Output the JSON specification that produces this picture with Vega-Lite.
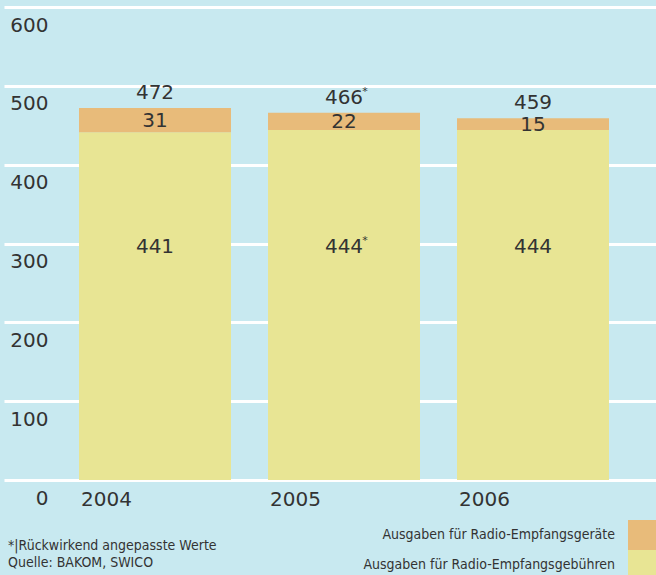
{
  "$schema": "https://vega.github.io/schema/vega-lite/v6.json",
  "width": 652,
  "height": 473,
  "autosize": {"type": "none"},
  "padding": {"left": 4, "top": 7, "right": 0, "bottom": 95},
  "background": "#c8e9f0",
  "config": {
    "view": {"stroke": null, "fill": "#c8e9f0"},
    "font": "DejaVu Sans",
    "text": {"font": "DejaVu Sans", "fontSize": 20, "color": "#333333"}
  },
  "title": {
    "text": ["*|Rückwirkend angepasste Werte", "Quelle: BAKOM, SWICO"],
    "orient": "bottom",
    "anchor": "start",
    "frame": "group",
    "font": "Liberation Sans Narrow, DejaVu Sans Condensed, sans-serif",
    "fontSize": 14,
    "fontWeight": "normal",
    "color": "#333333",
    "lineHeight": 17,
    "offset": -41,
    "dx": 4
  },
  "data": {
    "values": [
      {"jahr": "2004", "kategorie": "Ausgaben für Radio-Empfangsgebühren", "wert": 441, "anmerkung": ""},
      {"jahr": "2004", "kategorie": "Ausgaben für Radio-Empfangsgeräte", "wert": 31, "anmerkung": ""},
      {"jahr": "2005", "kategorie": "Ausgaben für Radio-Empfangsgebühren", "wert": 444, "anmerkung": "*"},
      {"jahr": "2005", "kategorie": "Ausgaben für Radio-Empfangsgeräte", "wert": 22, "anmerkung": ""},
      {"jahr": "2006", "kategorie": "Ausgaben für Radio-Empfangsgebühren", "wert": 444, "anmerkung": ""},
      {"jahr": "2006", "kategorie": "Ausgaben für Radio-Empfangsgeräte", "wert": 15, "anmerkung": ""}
    ]
  },
  "encoding": {
    "x": {
      "field": "jahr",
      "type": "nominal",
      "title": null,
      "scale": {"paddingInner": 0.1958, "paddingOuter": 0.3228, "align": 0.6148},
      "axis": {
        "domain": false,
        "ticks": false,
        "tickSize": 0,
        "labelAngle": 0,
        "labelAlign": "left",
        "labelBaseline": "alphabetic",
        "labelOffset": -74,
        "labelPadding": 25,
        "labelFont": "DejaVu Sans",
        "labelFontSize": 20,
        "labelColor": "#333333"
      }
    }
  },
  "layer": [
    {
      "mark": {"type": "bar"},
      "encoding": {
        "y": {
          "field": "wert",
          "type": "quantitative",
          "stack": "zero",
          "title": null,
          "scale": {"domain": [0, 600], "nice": false},
          "axis": {
            "values": [0, 100, 200, 300, 400, 500, 600],
            "domain": false,
            "ticks": false,
            "tickSize": 0,
            "grid": true,
            "gridColor": "#ffffff",
            "gridWidth": 3,
            "gridOpacity": 1,
            "labelAlign": "right",
            "labelBaseline": "alphabetic",
            "labelPadding": -44,
            "labelOffset": 24,
            "labelFont": "DejaVu Sans",
            "labelFontSize": 20,
            "labelColor": "#333333"
          }
        },
        "color": {
          "field": "kategorie",
          "type": "nominal",
          "scale": {
            "domain": ["Ausgaben für Radio-Empfangsgeräte", "Ausgaben für Radio-Empfangsgebühren"],
            "range": ["#e8bb7a", "#e8e594"]
          },
          "legend": {
            "title": null,
            "orient": "none",
            "legendX": 624,
            "legendY": 513,
            "padding": 0,
            "symbolType": "square",
            "symbolSize": 900,
            "symbolStrokeWidth": 0,
            "symbolOpacity": 1,
            "rowPadding": 0,
            "labelAlign": "right",
            "labelBaseline": "middle",
            "labelOffset": -43,
            "labelLimit": 400,
            "labelFont": "Liberation Sans Narrow, DejaVu Sans Condensed, sans-serif",
            "labelFontSize": 14,
            "labelColor": "#333333"
          }
        },
        "order": {"field": "kategorie", "sort": "ascending"}
      }
    },
    {
      "transform": [
        {"stack": "wert", "groupby": ["jahr"], "sort": [{"field": "kategorie", "order": "ascending"}], "as": ["w0", "w1"]},
        {"filter": "datum.kategorie == 'Ausgaben für Radio-Empfangsgeräte'"},
        {"calculate": "(datum.w0 + datum.w1) / 2", "as": "mitte"}
      ],
      "mark": {"type": "text", "baseline": "middle", "align": "center", "dy": 1},
      "encoding": {
        "y": {"field": "mitte", "type": "quantitative", "title": null},
        "text": {"field": "wert", "type": "quantitative"}
      }
    },
    {
      "transform": [{"filter": "datum.kategorie == 'Ausgaben für Radio-Empfangsgebühren'"}],
      "mark": {"type": "text", "baseline": "alphabetic", "align": "center"},
      "encoding": {
        "y": {"datum": 288, "type": "quantitative"},
        "text": {"field": "wert", "type": "quantitative"}
      }
    },
    {
      "transform": [
        {"filter": "datum.kategorie == 'Ausgaben für Radio-Empfangsgebühren' && datum.anmerkung == '*'"}
      ],
      "mark": {"type": "text", "baseline": "alphabetic", "align": "center", "fontSize": 11, "dx": 21, "dy": -9},
      "encoding": {
        "y": {"datum": 288, "type": "quantitative"},
        "text": {"field": "anmerkung"}
      }
    },
    {
      "transform": [
        {"joinaggregate": [{"op": "sum", "field": "wert", "as": "summe"}], "groupby": ["jahr"]},
        {"filter": "datum.kategorie == 'Ausgaben für Radio-Empfangsgebühren'"}
      ],
      "mark": {"type": "text", "baseline": "alphabetic", "align": "center", "dy": -9},
      "encoding": {
        "y": {"field": "summe", "type": "quantitative", "title": null},
        "text": {"field": "summe", "type": "quantitative"}
      }
    },
    {
      "transform": [
        {"joinaggregate": [{"op": "sum", "field": "wert", "as": "summe"}], "groupby": ["jahr"]},
        {"filter": "datum.kategorie == 'Ausgaben für Radio-Empfangsgebühren' && datum.anmerkung == '*'"}
      ],
      "mark": {"type": "text", "baseline": "alphabetic", "align": "center", "fontSize": 11, "dx": 21, "dy": -18},
      "encoding": {
        "y": {"field": "summe", "type": "quantitative", "title": null},
        "text": {"field": "anmerkung"}
      }
    }
  ]
}
